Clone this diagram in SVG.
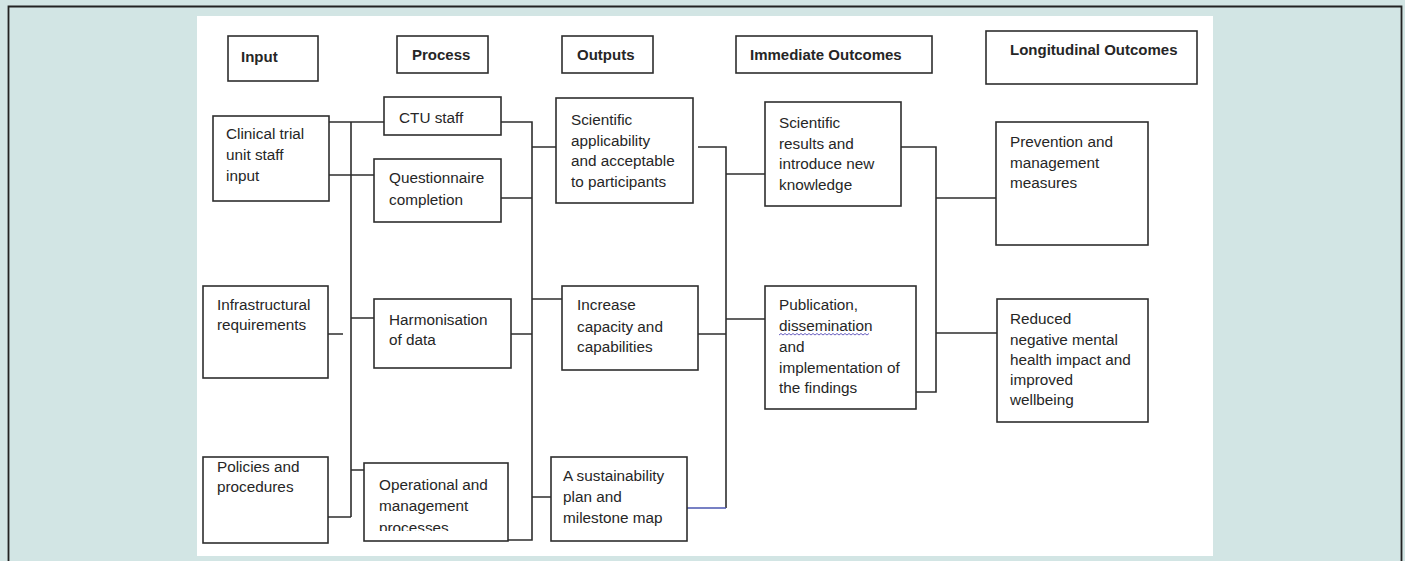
<svg xmlns="http://www.w3.org/2000/svg" width="1405" height="561" viewBox="0 0 1405 561">
<style>
.box{fill:#fff;stroke:#2e2e2e;stroke-width:1.6}
.t{font-family:"Liberation Sans",Arial,sans-serif;font-size:15.3px;fill:#262626}
.h{font-family:"Liberation Sans",Arial,sans-serif;font-size:15px;font-weight:bold;fill:#262626}
.c{fill:none;stroke:#2e2e2e;stroke-width:1.6}
</style>
<defs>
<clipPath id="opclip"><rect x="364" y="463" width="144" height="68"/></clipPath>
</defs>
<rect x="0" y="0" width="1405" height="561" fill="#d2e5e4"/>
<path d="M8.5 561 V6.5 H1401.5 V561" fill="none" stroke="#222" stroke-width="1.8"/>
<rect x="197" y="16" width="1016" height="540" fill="#fff"/>

<g id="connectors">
<path class="c" d="M329 122 H384 M329 175 H374 M351 122 V517 M328 334 H343 M351 318 H374 M351 470 H364 M328 517 H351"/>
<path class="c" d="M501 122 H532 V540 H508 M501 198 H532 M511 334 H532 M532 147 H556 M532 299 H562 M532 497 H551"/>
<path class="c" d="M698 147 H726 V508 M726 174 H765 M698 334 H726 M726 319 H765"/>
<path d="M685 508 H726" fill="none" stroke="#4a56b0" stroke-width="1.4"/>
<path class="c" d="M901 147 H936 V392 H916 M936 198 H996 M936 333 H997"/>
</g>

<g id="h-input"><rect class="box" x="228" y="36" width="90" height="45"/><text class="h" x="241" y="62">Input</text></g>
<g id="h-process"><rect class="box" x="397" y="36" width="91" height="37"/><text class="h" x="412" y="60">Process</text></g>
<g id="h-outputs"><rect class="box" x="562" y="36" width="91" height="37"/><text class="h" x="577" y="60">Outputs</text></g>
<g id="h-immediate"><rect class="box" x="736" y="36" width="196" height="37"/><text class="h" x="750" y="60">Immediate Outcomes</text></g>
<g id="h-longitudinal"><rect class="box" x="986" y="31" width="211" height="53"/><text class="h" x="1010" y="55">Longitudinal Outcomes</text></g>

<g id="n-clinical"><rect class="box" x="213" y="116" width="116" height="85"/>
<text class="t"><tspan x="226" y="139">Clinical trial</tspan><tspan x="226" y="160">unit staff</tspan><tspan x="226" y="181">input</tspan></text></g>
<g id="n-infra"><rect class="box" x="203" y="286" width="125" height="92"/>
<text class="t"><tspan x="217" y="310">Infrastructural</tspan><tspan x="217" y="330">requirements</tspan></text></g>
<g id="n-policies"><rect class="box" x="203" y="457" width="125" height="86"/>
<text class="t"><tspan x="217" y="472">Policies and</tspan><tspan x="217" y="492">procedures</tspan></text></g>

<g id="n-ctu"><rect class="box" x="384" y="97" width="117" height="38"/><text class="t" x="399" y="123">CTU staff</text></g>
<g id="n-questionnaire"><rect class="box" x="374" y="159" width="127" height="63"/>
<text class="t"><tspan x="389" y="183">Questionnaire</tspan><tspan x="389" y="205">completion</tspan></text></g>
<g id="n-harmonisation"><rect class="box" x="374" y="299" width="137" height="69"/>
<text class="t"><tspan x="389" y="325">Harmonisation</tspan><tspan x="389" y="345">of data</tspan></text></g>
<g id="n-operational"><rect class="box" x="364" y="463" width="144" height="78"/>
<text class="t" clip-path="url(#opclip)"><tspan x="379" y="490">Operational and</tspan><tspan x="379" y="511">management</tspan><tspan x="379" y="533">processes</tspan></text></g>

<g id="n-scientific-app"><rect class="box" x="556" y="98" width="137" height="105"/>
<text class="t"><tspan x="571" y="125">Scientific</tspan><tspan x="571" y="146">applicability</tspan><tspan x="571" y="166">and acceptable</tspan><tspan x="571" y="187">to participants</tspan></text></g>
<g id="n-capacity"><rect class="box" x="562" y="286" width="136" height="84"/>
<text class="t"><tspan x="577" y="310">Increase</tspan><tspan x="577" y="332">capacity and</tspan><tspan x="577" y="352">capabilities</tspan></text></g>
<g id="n-sustainability"><rect class="box" x="551" y="457" width="136" height="84"/>
<text class="t"><tspan x="563" y="481">A sustainability</tspan><tspan x="563" y="502">plan and</tspan><tspan x="563" y="523">milestone map</tspan></text></g>

<g id="n-results"><rect class="box" x="765" y="102" width="136" height="104"/>
<text class="t"><tspan x="779" y="128">Scientific</tspan><tspan x="779" y="149">results and</tspan><tspan x="779" y="169">introduce new</tspan><tspan x="779" y="190">knowledge</tspan></text></g>
<g id="n-publication"><rect class="box" x="765" y="286" width="151" height="123"/>
<text class="t"><tspan x="779" y="310">Publication,</tspan><tspan x="779" y="331">dissemination</tspan><tspan x="779" y="352">and</tspan><tspan x="779" y="373">implementation of</tspan><tspan x="779" y="393">the findings</tspan></text>
<path d="M779 335 l2 -1.5 l2 1.5 l2 -1.5 l2 1.5 l2 -1.5 l2 1.5 l2 -1.5 l2 1.5 l2 -1.5 l2 1.5 l2 -1.5 l2 1.5 l2 -1.5 l2 1.5 l2 -1.5 l2 1.5 l2 -1.5 l2 1.5 l2 -1.5 l2 1.5 l2 -1.5 l2 1.5 l2 -1.5 l2 1.5 l2 -1.5 l2 1.5 l2 -1.5 l2 1.5 l2 -1.5 l2 1.5 l2 -1.5 l2 1.5 l2 -1.5 l2 1.5 l2 -1.5 l2 1.5 l2 -1.5 l2 1.5 l2 -1.5 l2 1.5 l2 -1.5 l2 1.5 l2 -1.5 l2 1.5 l2 -1.5" fill="none" stroke="#6a5fc0" stroke-width="1"/></g>

<g id="n-prevention"><rect class="box" x="996" y="122" width="152" height="123"/>
<text class="t"><tspan x="1010" y="147">Prevention and</tspan><tspan x="1010" y="168">management</tspan><tspan x="1010" y="188">measures</tspan></text></g>
<g id="n-reduced"><rect class="box" x="997" y="299" width="151" height="123"/>
<text class="t"><tspan x="1010" y="324">Reduced</tspan><tspan x="1010" y="345">negative mental</tspan><tspan x="1010" y="365">health impact and</tspan><tspan x="1010" y="385">improved</tspan><tspan x="1010" y="405">wellbeing</tspan></text></g>
</svg>
